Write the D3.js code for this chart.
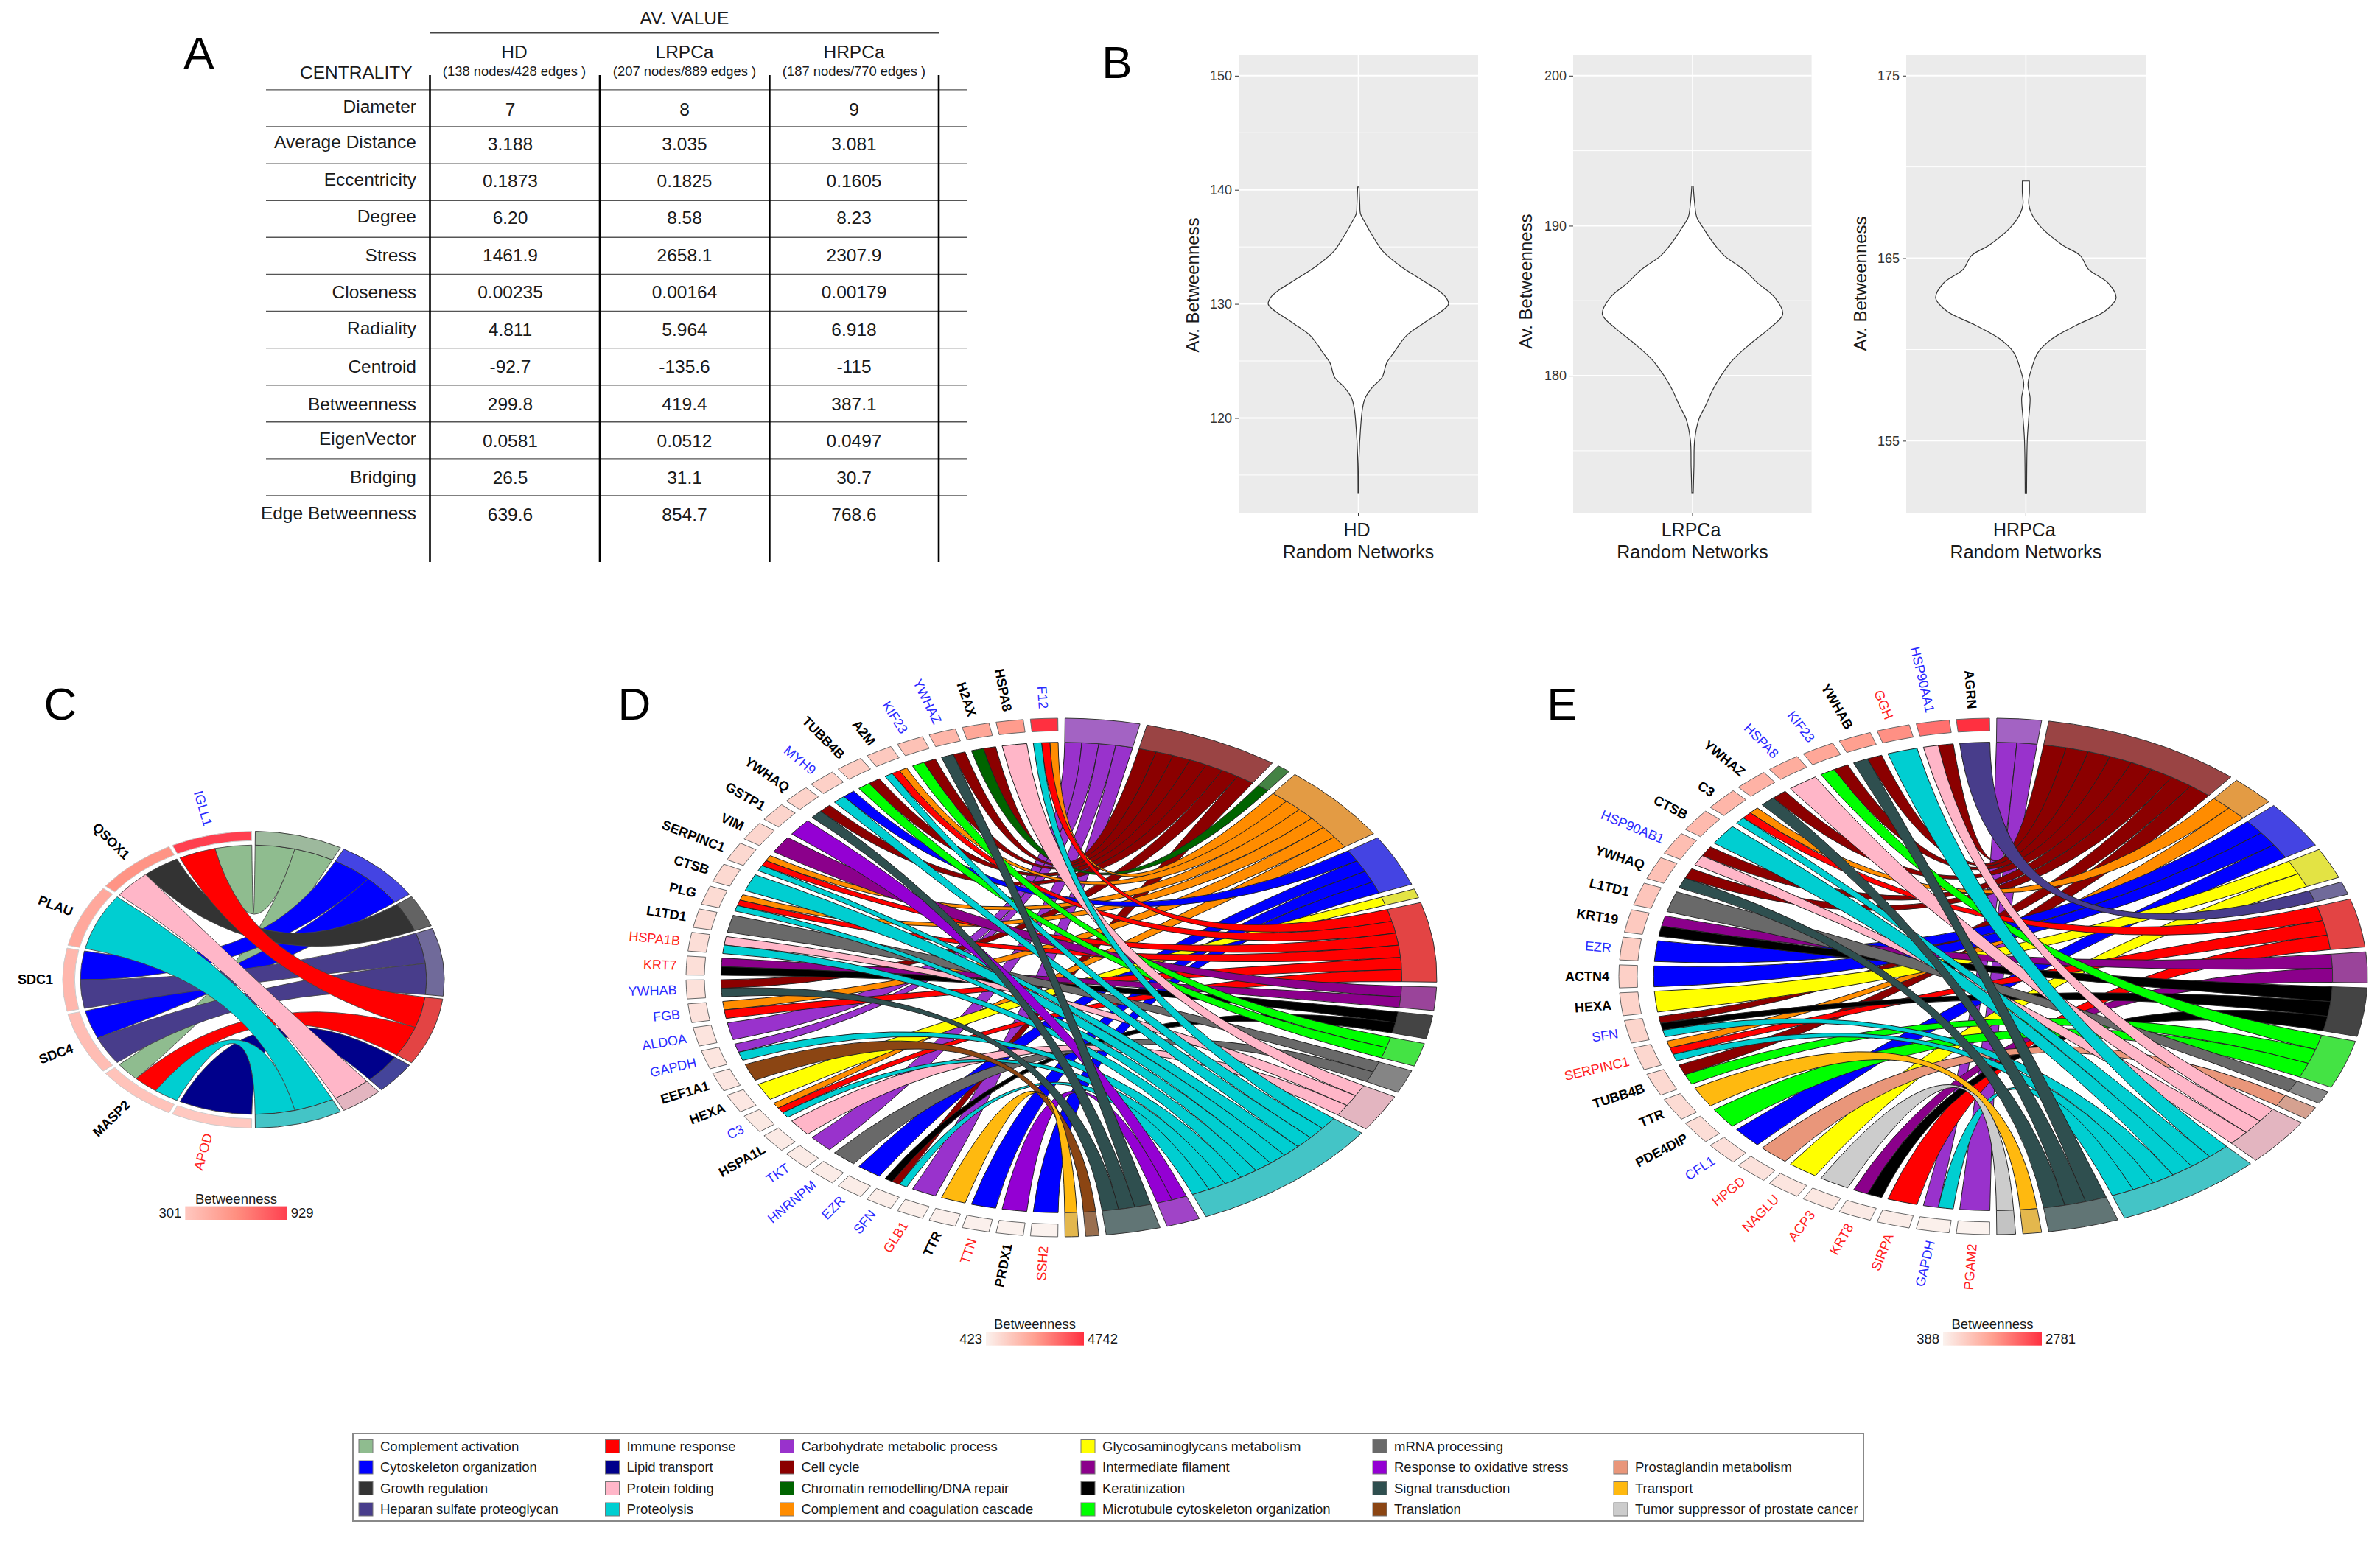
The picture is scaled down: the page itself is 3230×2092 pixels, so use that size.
<!DOCTYPE html>
<html><head><meta charset="utf-8">
<script src="https://cdn.jsdelivr.net/npm/d3@7"></script>
<style>
html,body{margin:0;padding:0;background:#fff}
svg{display:block}
text{font-family:"Liberation Sans",Arial,sans-serif;fill:#1a1a1a}
</style></head><body>
<svg id="c" width="3230" height="2092"></svg>
<script>
// ---------- Panel A ----------
const tableCols = ["HD","LRPCa","HRPCa"];
const tableSubs = ["(138 nodes/428 edges )","(207 nodes/889 edges )","(187 nodes/770 edges )"];
const centralities = ["Diameter","Average Distance","Eccentricity","Degree","Stress","Closeness","Radiality","Centroid","Betweenness","EigenVector","Bridging","Edge Betweenness"];
const hdValues = ["7","3.188","0.1873","6.20","1461.9","0.00235","4.811","-92.7","299.8","0.0581","26.5","639.6"];
const lrValues = ["8","3.035","0.1825","8.58","2658.1","0.00164","5.964","-135.6","419.4","0.0512","31.1","854.7"];
const hrValues = ["9","3.081","0.1605","8.23","2307.9","0.00179","6.918","-115","387.1","0.0497","30.7","768.6"];

// ---------- Panel B ----------
const hdViolinValue = [140.25,138.8,137.9,137.3,136.4,135.2,134.6,133.3,132.1,131.2,130.6,130.0,129.6,129.1,128.2,127.2,125.7,124.8,123.6,122.7,121.8,120.9,119.0,116.6,113.45];
const hdViolinWidth = [1,2,3,8,16,28,35,60,90,113,124,128,123,112,90,68,50,40,34,20,10,6,3,1,0.5];
const lrViolinValue = [192.65,191.5,190.57,189.87,188.95,188.0,187.1,186.2,185.2,184.1,183.15,182.2,181.1,179.9,179.0,178.05,177.1,175.7,173.9,172.2];
const lrViolinWidth = [1,3,6,15,28,45,72,92,117,128,109,84,58,39,28,19,9,3,2,1];
const hrViolinValue = [169.23,168.58,168.0,167.44,166.68,165.72,165.15,164.39,163.63,162.83,162.1,161.34,160.58,159.82,159.06,158.1,157.34,156.2,155.06,152.14];
const hrViolinWidth = [5,5,4,8,22,52,77,89,117,128,112,72,37,17,9,3,6,4,2,1];

// ---------- Terms ----------
const termNames = {
 ca:"Complement activation", cy:"Cytoskeleton organization", gr:"Growth regulation", he:"Heparan sulfate proteoglycan",
 im:"Immune response", li:"Lipid transport", pf:"Protein folding", pr:"Proteolysis",
 cb:"Carbohydrate metabolic process", cc:"Cell cycle", ch:"Chromatin remodelling/DNA repair", co:"Complement and coagulation cascade",
 gl:"Glycosaminoglycans metabolism", in:"Intermediate filament", ke:"Keratinization", mi:"Microtubule cytoskeleton organization",
 mr:"mRNA processing", ox:"Response to oxidative stress", si:"Signal transduction", tl:"Translation",
 pg:"Prostaglandin metabolism", tr:"Transport", tu:"Tumor suppressor of prostate cancer"};
const termColors = {
 ca:"#8fbc8f", cy:"#0000ff", gr:"#333333", he:"#483d8b", im:"#ff0000", li:"#00008b", pf:"#ffb6c8", pr:"#00ced1",
 cb:"#9932cc", cc:"#8b0000", ch:"#006400", co:"#ff8c00", gl:"#ffff00", in:"#8b008b", ke:"#000000", mi:"#00ff00",
 mr:"#696969", ox:"#9400d3", si:"#2f4f4f", tl:"#8b4513", pg:"#e9967a", tr:"#ffb90f", tu:"#cccccc"};
const legendColumns = [["ca","cy","gr","he"],["im","li","pf","pr"],["cb","cc","ch","co"],["gl","in","ke","mi"],["mr","ox","si","tl"],[null,"pg","tr","tu"]];

// ---------- Panel C (genes run clockwise from the bottom) ----------
const termsC = ["ca","cy","gr","he","im","li","pf","pr"];
const genesC = ["APOD","MASP2","SDC4","SDC1","PLAU","QSOX1","IGLL1"];
const linksC = [["li"],["pr","im","ca"],["he","cy"],["he","cy"],["pr"],["pf","gr"],["im","ca"]];
const betweenC = [301,330,360,395,480,590,929];
const labelColC = ["r","k","k","k","k","k","b"];

// ---------- Panel D ----------
const termsD = ["cb","cc","ch","co","cy","gl","im","in","ke","mi","mr","pf","pr","ox","si","tl","tr"];
const genesD = ["SSH2","PRDX1","TTN","TTR","GLB1","SFN","EZR","HNRNPM","TKT","HSPA1L","C3","HEXA","EEF1A1","GAPDH","ALDOA","FGB","YWHAB","KRT7","HSPA1B","L1TD1","PLG","CTSB","SERPINC1","VIM","GSTP1","YWHAQ","MYH9","TUBB4B","A2M","KIF23","YWHAZ","H2AX","HSPA8","F12"];
const linksD = [["cy"],["ox"],["cy"],["tr"],["cb"],["pr","cc","ke"],["cy"],["mr"],["cb"],["pf"],["pr","im","co"],["gl"],["tl"],["pr","cb"],["cb"],["im","co"],["si","cc"],["ke","in"],["pr","pf"],["mr"],["pr","im","co"],["pr"],["pr","im","co"],["in"],["ox"],["si","cc"],["pr","cy"],["mi","cc"],["pr","im","co"],["mi","cc"],["si","cc"],["ch","cc"],["pf"],["pr","im","co"]];
const betweenD = [423,445,465,490,515,540,565,590,615,640,670,700,730,765,800,840,880,920,960,1000,1040,1080,1120,1160,1200,1250,1310,1400,1500,1700,2000,2400,2650,4742];
const labelColD = ["r","k","r","k","r","b","b","b","b","k","b","k","k","b","b","b","b","r","r","k","k","k","k","k","k","k","b","k","k","b","b","k","k","b"];

// ---------- Panel E ----------
const termsE = ["cb","cc","co","cy","gl","he","im","in","ke","mi","mr","pg","pf","pr","si","tr","tu"];
const genesE = ["PGAM2","GAPDH","SIRPA","KRT8","ACP3","NAGLU","HPGD","CFL1","PDE4DIP","TTR","TUBB4B","SERPINC1","SFN","HEXA","ACTN4","EZR","KRT19","L1TD1","YWHAQ","HSP90AB1","CTSB","C3","YWHAZ","HSPA8","KIF23","YWHAB","GGH","HSP90AA1","AGRN"];
const linksE = [["cb"],["pr","cb"],["im"],["ke","in"],["tu"],["gl"],["pg"],["cy"],["mi"],["tr"],["mi","cc"],["pr","im","co"],["pr","ke","cc"],["gl"],["cy"],["cy"],["ke","in"],["mr"],["si","cc"],["pf","cc"],["pr"],["pr","im","co"],["si","cc"],["pf"],["mi","cc"],["si","cc"],["pr"],["pf","cc"],["he"]];
const betweenE = [388,420,460,500,540,580,620,660,695,725,755,785,815,845,880,930,990,1040,1100,1150,1200,1260,1320,1400,1480,1584,1760,2100,2781];
const labelColE = ["r","b","r","r","r","r","r","b","k","k","k","r","b","k","k","b","k","k","k","b","k","k","k","b","b","k","r","b","k"];

const labelColors = {r:"#ff2020", b:"#2a2aff", k:"#000"};
const svg = d3.select("#c");

// ========== A ==========
(function(){
  const g = svg.append("g");
  const colX = [692.5,929,1159], headX = [698,929,1159];
  const rowZoomLabel = [291,387,489,591,696,797,895,1000,1102,1198,1301,1401];
  const rowZoomValue = [298,392,493,595,696,797,899,1000,1102,1203,1304,1405];
  const zy = d3.scaleLinear().domain([0,1568]).range([0,780]);
  const hY = d3.scaleLinear().domain([0,11]).range([121.9,673]);
  g.selectAll(".h").data(d3.range(12)).join("line")
    .attr("x1",361).attr("x2",1313).attr("y1",hY).attr("y2",hY).attr("stroke","#555").attr("stroke-width",1.4);
  g.append("line").attr("x1",583.5).attr("x2",1274).attr("y1",44.8).attr("y2",44.8).attr("stroke","#444").attr("stroke-width",1.4);
  g.selectAll(".v").data([583.5,814,1044.4,1274]).join("line")
    .attr("x1",d=>d).attr("x2",d=>d).attr("y1",102).attr("y2",763).attr("stroke","#000").attr("stroke-width",2.6);
  g.append("text").attr("x",929).attr("y",33).attr("text-anchor","middle").attr("font-size",24.5).text("AV. VALUE");
  g.append("text").attr("x",559.5).attr("y",107).attr("text-anchor","end").attr("font-size",24.5).text("CENTRALITY");
  tableCols.forEach((c,i)=>{
    g.append("text").attr("x",headX[i]).attr("y",79).attr("text-anchor","middle").attr("font-size",24.5).text(c);
    g.append("text").attr("x",headX[i]).attr("y",103).attr("text-anchor","middle").attr("font-size",18.4).text(tableSubs[i]);
  });
  g.selectAll(".lab").data(centralities).join("text")
    .attr("x",565).attr("y",(d,i)=>zy(rowZoomLabel[i])+8.5).attr("text-anchor","end").attr("font-size",24.5).text(d=>d);
  [hdValues,lrValues,hrValues].forEach((vals,c)=>{
    g.selectAll(".val"+c).data(vals).join("text")
      .attr("x",colX[c]).attr("y",(d,i)=>zy(rowZoomValue[i])+8.5).attr("text-anchor","middle").attr("font-size",24.5).text(d=>d);
  });
})();

// Panel letters
[["A",270,93],["B",1516,106],["C",82,977],["D",861,977],["E",2120,977]].forEach(([t,x,y])=>
  svg.append("text").attr("x",x).attr("y",y).attr("text-anchor","middle").attr("font-size",62).style("fill","#000").text(t));

// ========== B ==========
function violin(opt){
  const top=74.5, bottom=696;
  const g=svg.append("g");
  const y=d3.scaleLinear().domain(opt.domain).range([bottom,top]);
  const x=d3.scaleLinear().domain([-1,1]).range([opt.center-122.4,opt.center+122.4]);
  g.append("rect").attr("x",opt.x0).attr("y",top).attr("width",opt.x1-opt.x0).attr("height",bottom-top).attr("fill","#ebebeb");
  g.selectAll(".mn").data(opt.minor).join("line").attr("x1",opt.x0).attr("x2",opt.x1).attr("y1",y).attr("y2",y).attr("stroke","#fff").attr("stroke-width",1);
  g.selectAll(".mj").data(opt.major).join("line").attr("x1",opt.x0).attr("x2",opt.x1).attr("y1",y).attr("y2",y).attr("stroke","#fff").attr("stroke-width",2);
  g.append("line").attr("x1",opt.center).attr("x2",opt.center).attr("y1",top).attr("y2",bottom).attr("stroke","#fff").attr("stroke-width",1.6);
  const pts=opt.values.map((v,i)=>({v,w:opt.widths[i]/128}));
  const area=d3.area().y(d=>y(d.v)).x0(d=>x(-d.w)).x1(d=>x(d.w)).curve(d3.curveCatmullRom);
  g.append("path").attr("d",area(pts)).attr("fill","#fff").attr("stroke","#333").attr("stroke-width",1.2);
  const ax=g.append("g").attr("transform",`translate(${opt.x0},0)`).call(d3.axisLeft(y).tickValues(opt.major).tickFormat(d3.format("d")).tickSize(5).tickPadding(4));
  ax.select(".domain").remove();
  ax.selectAll("text").attr("font-size",18).style("fill","#333");
  ax.selectAll("line").attr("stroke","#333");
  g.append("line").attr("x1",opt.center).attr("x2",opt.center).attr("y1",bottom).attr("y2",bottom+4).attr("stroke","#333");
  g.append("text").attr("x",opt.center-2).attr("y",728).attr("text-anchor","middle").attr("font-size",25).text(opt.name);
  g.append("text").attr("x",opt.center).attr("y",758).attr("text-anchor","middle").attr("font-size",25).text("Random Networks");
  g.append("text").attr("transform",`translate(${opt.labX},${opt.labY}) rotate(-90)`).attr("text-anchor","middle").attr("font-size",24).text("Av. Betweenness");
}
violin({name:"HD",x0:1681,x1:2006,center:1843.5,domain:[111.7,151.83],major:[120,130,140,150],minor:[115,125,135,145],values:hdViolinValue,widths:hdViolinWidth,labX:1627,labY:387});
violin({name:"LRPCa",x0:2135,x1:2458.6,center:2297,domain:[170.87,201.39],major:[180,190,200],minor:[175,185,195],values:lrViolinValue,widths:lrViolinWidth,labX:2079,labY:382});
violin({name:"HRPCa",x0:2587,x1:2912,center:2749.4,domain:[151.06,176.14],major:[155,165,175],minor:[160,170],values:hrViolinValue,widths:hrViolinWidth,labX:2533,labY:385});

// ========== Chords ==========
function ringColor(c){
  const r=d3.rgb(c), f=v=>(v*0.7+76)*0.89;
  return d3.rgb(f(r.r),f(r.g),f(r.b)).formatHex();
}
function chord(o){
  const U=1000, PAD=0.55*Math.PI/180, rRib=0.907*U, rGene=o.geneInner*U;
  const g=svg.append("g").attr("transform",`translate(${o.cx},${o.cy}) scale(${o.rx/U},${o.ry/U})`);
  const n=o.genes.length;
  const geneTheta=d3.scaleLinear().domain([0,n]).range([Math.PI,2*Math.PI]);
  const counts=o.terms.map(t=>d3.sum(o.links,l=>l.filter(k=>k===t).length));
  const cum=d3.cumsum([0].concat(counts));
  const termTheta=d3.scaleLinear().domain([0,cum[cum.length-1]]).range([0,Math.PI]);
  const ext=d3.extent(o.between);
  const color=d3.scaleLinear().domain([ext[0],(ext[0]+ext[1])/2,ext[1]]).range(o.gradient).interpolate(d3.interpolateRgb);
  const nextSlot=o.terms.map(()=>0);
  const ribbons=[];
  for(let i=n-1;i>=0;i--){
    const s=geneTheta(i)+PAD,e=geneTheta(i+1)-PAD,m=o.links[i].length;
    const sub=d3.scaleLinear().domain([0,m]).range([s,e]);
    o.links[i].forEach((t,j)=>{
      const ti=o.terms.indexOf(t);
      const ts=termTheta(cum[ti])+PAD,te=termTheta(cum[ti+1])-PAD;
      const ss=d3.scaleLinear().domain([0,counts[ti]]).range([ts,te]);
      const slot=nextSlot[ti]++;
      ribbons.push({ti,t,a0:sub(j),a1:sub(j+1),b0:ss(slot),b1:ss(slot+1)});
    });
  }
  ribbons.sort((a,b)=>a.ti-b.ti);
  const pt=(th,r)=>[r*Math.sin(th),-r*Math.cos(th)];
  const ribbonPath=d=>{
    const p=d3.path(),q=Math.PI/2;
    p.moveTo(...pt(d.a1,rRib));
    p.quadraticCurveTo(0,0,...pt(d.b0,rRib));
    p.arc(0,0,rRib,d.b0-q,d.b1-q);
    p.quadraticCurveTo(0,0,...pt(d.a0,rRib));
    p.arc(0,0,rRib,d.a0-q,d.a1-q);
    p.closePath();
    return p.toString();
  };
  g.selectAll(".rib").data(ribbons).join("path").attr("d",ribbonPath)
    .attr("fill",d=>termColors[d.t]).attr("stroke",o.ribStroke).attr("stroke-width",o.ribWidth)
    .attr("vector-effect","non-scaling-stroke");
  const arcT=d3.arc().innerRadius(rRib).outerRadius(U);
  g.selectAll(".term").data(o.terms).join("path")
    .attr("d",(t,i)=>arcT({startAngle:termTheta(cum[i])+PAD,endAngle:termTheta(cum[i+1])-PAD}))
    .attr("fill",t=>ringColor(termColors[t])).attr("stroke","#333").attr("stroke-width",o.ribWidth).attr("vector-effect","non-scaling-stroke");
  const arcG=d3.arc().innerRadius(rGene).outerRadius(U);
  g.selectAll(".gene").data(o.genes).join("path")
    .attr("d",(t,i)=>arcG({startAngle:geneTheta(i)+PAD,endAngle:geneTheta(i+1)-PAD}))
    .attr("fill",(t,i)=>color(o.between[i])).attr("stroke",o.geneStroke).attr("stroke-width",1).attr("vector-effect","non-scaling-stroke");
  const lg=svg.append("g");
  o.genes.forEach((name,i)=>{
    const th=geneTheta(i+0.5),dx=o.rx*Math.sin(th),dy=-o.ry*Math.cos(th),len=Math.hypot(dx,dy);
    const x=o.cx+dx*(1+13/len),y=o.cy+dy*(1+13/len);
    const rot=Math.atan2(-dy,-dx)*180/Math.PI;
    const col=o.labelCol[i];
    lg.append("text").attr("transform",`translate(${x},${y}) rotate(${rot})`).attr("text-anchor","end").attr("dy","0.35em")
      .attr("font-size",18).attr("font-weight",col==="k"?"700":"400").style("fill",labelColors[col]).text(name);
  });
  const id="grad"+o.id,lx=o.leg;
  const grad=svg.append("defs").append("linearGradient").attr("id",id);
  o.gradient.forEach((c,i)=>grad.append("stop").attr("offset",(i*50)+"%").attr("stop-color",c));
  svg.append("rect").attr("x",lx[0]).attr("y",lx[2]).attr("width",lx[1]-lx[0]).attr("height",lx[3]-lx[2]).attr("fill",`url(#${id})`);
  svg.append("text").attr("x",(lx[0]+lx[1])/2).attr("y",lx[2]-4).attr("text-anchor","middle").attr("font-size",18.5).text("Betweenness");
  svg.append("text").attr("x",lx[0]-5).attr("y",(lx[2]+lx[3])/2+6.5).attr("text-anchor","end").attr("font-size",18.5).text(ext[0]);
  svg.append("text").attr("x",lx[1]+5).attr("y",(lx[2]+lx[3])/2+6.5).attr("font-size",18.5).text(ext[1]);
}
chord({id:"C",cx:344,cy:1330,rx:259,ry:201.5,geneInner:0.937,terms:termsC,genes:genesC,links:linksC,between:betweenC,labelCol:labelColC,gradient:["#ffc8c0","#ff8f80","#ff3f4f"],ribStroke:"#444",ribWidth:0.9,geneStroke:"#ccc",leg:[251.3,389.7,1637.6,1656]});
chord({id:"D",cx:1440.5,cy:1327,rx:509.5,ry:352,geneInner:0.951,terms:termsD,genes:genesD,links:linksD,between:betweenD,labelCol:labelColD,gradient:["#fbf2ee","#ffa090","#ff3040"],ribStroke:"#222",ribWidth:1,geneStroke:"#666",leg:[1338,1471,1808,1826.7]});
chord({id:"E",cx:2705,cy:1325.5,rx:508,ry:350.5,geneInner:0.951,terms:termsE,genes:genesE,links:linksE,between:betweenE,labelCol:labelColE,gradient:["#fbf2ee","#ffa090","#ff3040"],ribStroke:"#222",ribWidth:1,geneStroke:"#666",leg:[2637,2771,1808,1826.7]});

// ========== Category legend ==========
(function(){
  const g=svg.append("g");
  g.append("rect").attr("x",479).attr("y",1946).attr("width",2050).attr("height",119).attr("fill","#fff").attr("stroke","#888").attr("stroke-width",2);
  const swatchX=[487,821.5,1058.5,1467,1863,2190];
  const rowY=d3.scalePoint().domain([0,1,2,3]).range([1963.5,2049]);
  legendColumns.forEach((col,c)=>{
    col.forEach((k,r)=>{
      if(!k) return;
      g.append("rect").attr("x",swatchX[c]).attr("y",rowY(r)-9).attr("width",19).attr("height",18)
        .attr("fill",termColors[k]).attr("stroke","#777").attr("stroke-width",1);
      g.append("text").attr("x",swatchX[c]+29).attr("y",rowY(r)+6).attr("font-size",18.5).text(termNames[k]);
    });
  });
})();
</script>
</body></html>
